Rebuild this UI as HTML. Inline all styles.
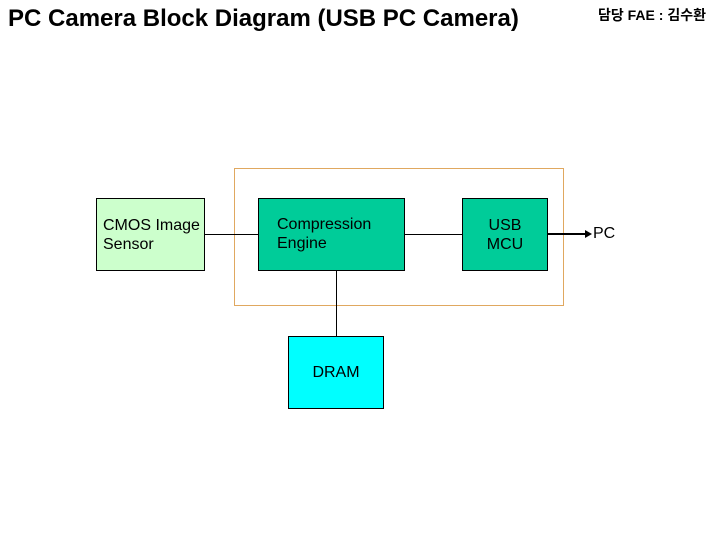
<!DOCTYPE html>
<html><head><meta charset="utf-8"><style>
body{margin:0;width:720px;height:540px;background:#fff;position:relative;overflow:hidden;font-family:"Liberation Sans","Noto Sans CJK KR",sans-serif;}
.a{position:absolute;}
.b{position:absolute;border:1px solid #000;box-sizing:border-box;font-size:16px;line-height:19px;}
</style></head><body>
<div class="a" style="left:8px;top:5px;font-size:24px;font-weight:bold;white-space:nowrap;">PC Camera Block Diagram (USB PC Camera)</div>
<div class="a" style="left:598px;top:5px;font-size:14px;font-weight:bold;white-space:nowrap;">담당 FAE : 김수환</div>
<div class="a" style="left:234px;top:168px;width:330px;height:138px;border:1px solid #e0a860;box-sizing:border-box;"></div>
<div class="a" style="left:204px;top:234px;width:54px;height:1px;background:#000"></div>
<div class="a" style="left:404px;top:234px;width:58px;height:1px;background:#000"></div>
<div class="a" style="left:336px;top:270px;width:1px;height:66px;background:#000"></div>
<div class="a" style="left:547px;top:233px;width:40px;height:2px;background:#000"></div>
<div class="a" style="left:585px;top:230px;width:0;height:0;border-left:7px solid #000;border-top:4px solid transparent;border-bottom:4px solid transparent"></div>
<div class="a" style="left:593px;top:225px;font-size:16px;">PC</div>
<div class="b" style="left:96px;top:198px;width:109px;height:73px;background:#ccffcc;padding:17px 0 0 6px;">CMOS Image<br>Sensor</div>
<div class="b" style="left:258px;top:198px;width:147px;height:73px;background:#00cc99;padding:16px 0 0 18px;">Compression<br>Engine</div>
<div class="b" style="left:462px;top:198px;width:86px;height:73px;background:#00cc99;padding:17px 0 0 0;text-align:center;">USB<br>MCU</div>
<div class="b" style="left:288px;top:336px;width:96px;height:73px;background:#00ffff;padding:26px 0 0 0;text-align:center;">DRAM</div>
</body></html>
